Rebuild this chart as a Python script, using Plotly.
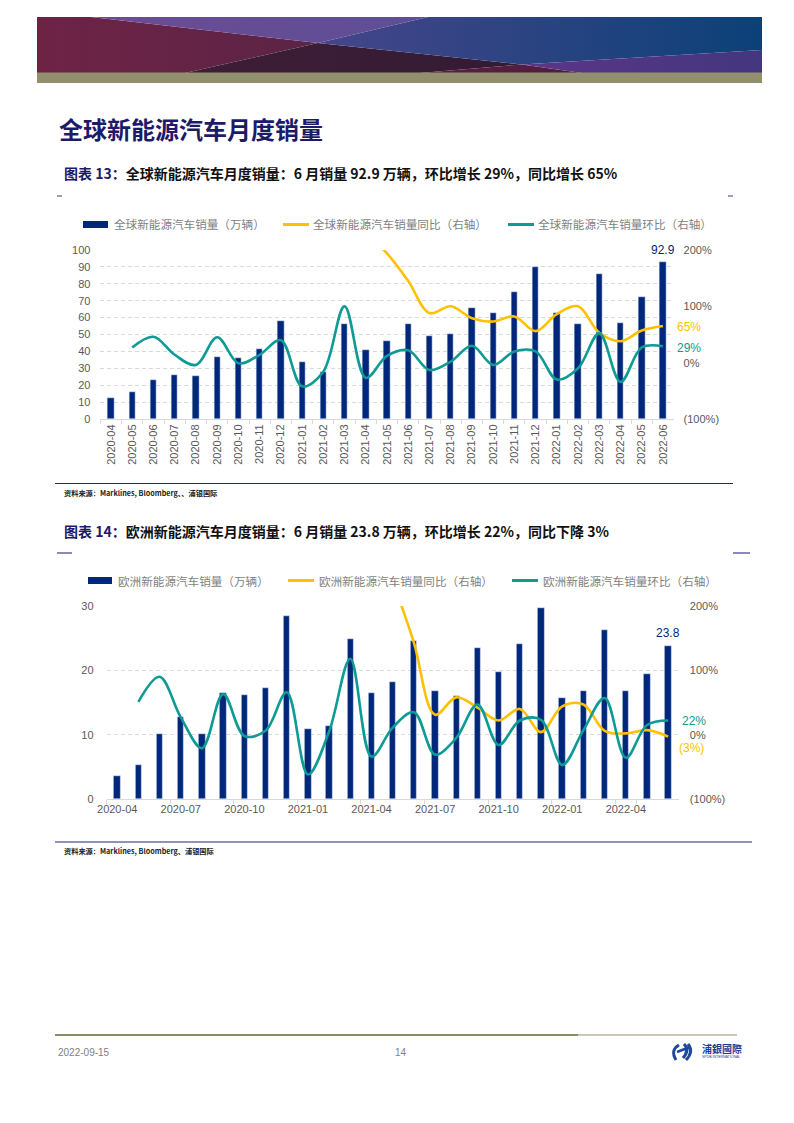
import plotly.graph_objects as go

# ---------------- data ----------------
months = ["2020-04", "2020-05", "2020-06", "2020-07", "2020-08", "2020-09", "2020-10",
          "2020-11", "2020-12", "2021-01", "2021-02", "2021-03", "2021-04", "2021-05",
          "2021-06", "2021-07", "2021-08", "2021-09", "2021-10", "2021-11", "2021-12",
          "2022-01", "2022-02", "2022-03", "2022-04", "2022-05", "2022-06"]
mom_months = months[1:]          # MoM series start 2020-05
yoy_months = months[12:]         # YoY series start 2021-04

global_sales = [12.4, 15.7, 23.0, 26.2, 25.2, 36.6, 36.2, 41.3, 57.9, 33.7, 28.1, 56.1, 41.1, 46.1,
                56.3, 49.2, 50.4, 65.7, 62.8, 75.2, 90.2, 62.8, 56.3, 85.6, 56.7, 72.2, 92.9]
global_yoy = [231, 194, 145, 88, 100, 79, 73, 82, 56, 86, 100, 53, 38, 57, 65]
global_mom = [27, 46, 14, -4, 45, -1, 14, 40, -42, -16, 100, -27, 12, 22, -13, 2, 30, -4, 20, 20,
              -30, -10, 52, -34, 27, 29]

eu_sales = [3.5, 5.3, 10.1, 12.8, 10.1, 16.5, 16.2, 17.2, 28.5, 10.9, 11.4, 24.8, 16.4, 18.2,
            24.5, 16.8, 16.0, 23.5, 19.8, 24.1, 29.7, 15.7, 16.8, 26.3, 16.8, 19.4, 23.8]
eu_yoy = [369, 243, 143, 31, 58, 42, 22, 40, 4, 44, 47, 6, 2, 7, -3]
eu_mom = [51, 90, 27, -21, 63, -2, 6, 66, -62, 5, 118, -34, 11, 35, -31, -5, 47, -16, 22, 23,
          -47, 7, 57, -36, 15, 22]

eu_tick_months = ["2020-04", "2020-07", "2020-10", "2021-01", "2021-04", "2021-07", "2021-10",
                  "2022-01", "2022-04"]
right_tickvals = [-100, 0, 100, 200]
right_ticktext = ["(100%)", "0%", "100%", "200%"]

# ---------------- styles ----------------
W, H = 794, 1123
OFF = 8   # page body margin of the rendered html
NAVY = "#00287a"
YEL = "#ffc000"
TEAL = "#0e9a95"
GRAY = "#595959"
GRID = "#d9d9d9"
NUMFONT = "Liberation Sans, Arial, sans-serif"
CJK = "Noto Sans CJK SC, sans-serif"


def px(x):
    return (x - OFF) / W


def py(y):
    return 1 - (y - OFF) / H


fig = go.Figure()

# ---------------- chart 1 ----------------
fig.add_trace(go.Bar(x=months, y=global_sales, marker_color=NAVY, width=0.3,
                     xaxis="x", yaxis="y", showlegend=False))
fig.add_trace(go.Scatter(x=yoy_months, y=global_yoy, mode="lines",
                         line=dict(color=YEL, width=2.6, shape="spline", smoothing=1.0),
                         xaxis="x", yaxis="y2", showlegend=False))
fig.add_trace(go.Scatter(x=mom_months, y=global_mom, mode="lines",
                         line=dict(color=TEAL, width=2.6, shape="spline", smoothing=1.0),
                         xaxis="x", yaxis="y2", showlegend=False))

# ---------------- chart 2 ----------------
fig.add_trace(go.Bar(x=months, y=eu_sales, marker_color=NAVY, width=0.3,
                     xaxis="x2", yaxis="y3", showlegend=False))
fig.add_trace(go.Scatter(x=yoy_months, y=eu_yoy, mode="lines",
                         line=dict(color=YEL, width=2.6, shape="spline", smoothing=1.0),
                         xaxis="x2", yaxis="y4", showlegend=False))
fig.add_trace(go.Scatter(x=mom_months, y=eu_mom, mode="lines",
                         line=dict(color=TEAL, width=2.6, shape="spline", smoothing=1.0),
                         xaxis="x2", yaxis="y4", showlegend=False))

# ---------------- banner (page axis, gradients) ----------------
banner_regions = [
    # (xs, ys, left colour, right colour)
    ([37, 91, 318, 185, 37], [17, 17, 43, 73, 73], "#6e2345", "#5b2446"),
    ([91, 428, 318], [17, 17, 43], "#6c4b94", "#5d4f97"),
    ([185, 318, 522, 420], [73, 43, 64.4, 73], "#3f1d37", "#321b33"),
    ([420, 522, 582], [73, 64.4, 73], "#5a1f43", "#4e1d3f"),
    ([428, 762, 762, 522, 318], [17, 17, 50, 64.4, 43], "#46458a", "#0c4178"),
    ([522, 762, 762, 582], [64.4, 50, 73, 73], "#5b3686", "#43367f"),
]
for xs, ys, c1, c2 in banner_regions:
    fig.add_trace(go.Scatter(x=xs + [xs[0]], y=ys + [ys[0]], mode="lines", fill="toself",
                             fillgradient=dict(type="horizontal", colorscale=[[0, c1], [1, c2]]),
                             line=dict(width=0, color=c1), hoverinfo="skip",
                             xaxis="x3", yaxis="y5", showlegend=False))

shapes = []
annotations = []


def rect(x0, y0, x1, y1, color):
    shapes.append(dict(type="rect", xref="paper", yref="paper", x0=px(x0), x1=px(x1),
                       y0=py(y1), y1=py(y0), fillcolor=color, line=dict(width=0), layer="above"))


def hline(x0, x1, y, color, width):
    shapes.append(dict(type="line", xref="paper", yref="paper", x0=px(x0), x1=px(x1),
                       y0=py(y), y1=py(y), line=dict(color=color, width=width), layer="above"))


def text(x, y, s, size, color, family=CJK, xanchor="left", yanchor="middle"):
    annotations.append(dict(x=px(x), y=py(y), xref="paper", yref="paper", text=s,
                            showarrow=False, xanchor=xanchor, yanchor=yanchor,
                            font=dict(size=size, color=color, family=family)))


# olive strip under banner
rect(37, 72.5, 762, 83, "#928f6e")

# page title
text(57, 128, "<b>全球新能源汽车月度销量</b>", 24, "#1d1a68")

# captions
text(62, 173, "<b><span style='color:#1d1a68'>图表 13：</span>全球新能源汽车月度销量：6 月销量 92.9 万辆，环比增长 29%，同比增长 65%</b>",
     14, "#111111")
text(62, 531, "<b><span style='color:#1d1a68'>图表 14：</span>欧洲新能源汽车月度销量：6 月销量 23.8 万辆，环比增长 22%，同比下降 3%</b>",
     14, "#111111")

# small dashes
hline(57, 62, 196, "#3b3a8c", 1)
hline(728, 733, 196, "#3b3a8c", 1)
hline(57, 72, 553, "#3b3a8c", 1.2)
hline(733, 750, 553, "#3b3a8c", 1.2)

# legends
LEGC = "#7f7f7f"
LEGS = 11.6
rect(83, 221, 108, 228, NAVY)
text(112, 224.5, "全球新能源汽车销量（万辆）", LEGS, LEGC)
hline(283, 309, 224.5, YEL, 3)
text(311, 224.5, "全球新能源汽车销量同比（右轴）", LEGS, LEGC)
hline(508, 534, 224.5, TEAL, 3)
text(536, 224.5, "全球新能源汽车销量环比（右轴）", LEGS, LEGC)

rect(88, 577, 112, 584, NAVY)
text(116, 580.5, "欧洲新能源汽车销量（万辆）", LEGS, LEGC)
hline(288, 314, 580.5, YEL, 3)
text(317, 580.5, "欧洲新能源汽车销量同比（右轴）", LEGS, LEGC)
hline(512, 538, 580.5, TEAL, 3)
text(541, 580.5, "欧洲新能源汽车销量环比（右轴）", LEGS, LEGC)

# data labels
annotations.append(dict(x=months[-1], y=global_sales[-1], xref="x", yref="y", text="92.9",
                        showarrow=False, yanchor="bottom", yshift=3,
                        font=dict(size=12, color=NAVY, family=NUMFONT)))
annotations.append(dict(x=months[-1], y=eu_sales[-1], xref="x2", yref="y3", text="23.8",
                        showarrow=False, yanchor="bottom", yshift=4,
                        font=dict(size=12, color=NAVY, family=NUMFONT)))
text(675, 327, "65%", 12, YEL, NUMFONT)
text(675, 347.5, "29%", 12, TEAL, NUMFONT)
text(680, 720.5, "22%", 12, TEAL, NUMFONT)
text(677, 748, "(3%)", 12, YEL, NUMFONT)

# bottom rules and sources
hline(55, 733, 483.5, "#1d2a6e", 1.2)
text(62, 493, "<b>资料来源：Marklines, Bloomberg、、浦银国际</b>", 7.2, "#222222")
hline(55, 752, 842, "#1d2a6e", 1.2)
text(62, 851, "<b>资料来源：Marklines, Bloomberg、浦银国际</b>", 7.2, "#222222")

# footer
hline(55, 578, 1035, "#8e8c6c", 2)
hline(578, 737, 1035, "#c9c8b6", 2)
text(56, 1052, "2022-09-15", 10, "#808080", NUMFONT)
text(393, 1052, "14", 10, "#808080", NUMFONT)
text(700, 1048, "<b>浦銀國際</b>", 10, "#1f3f8f")
text(700, 1057, "SPDB INTERNATIONAL", 3.5, "#1f3f8f", NUMFONT)
# logo icon (page-axis paths)
for p in ["M 679 1045 Q 670 1050 676 1060", "M 684 1044 Q 690 1050 683 1058",
          "M 688 1044 Q 694 1052 686 1060"]:
    shapes.append(dict(type="path", xref="x3", yref="y5", path=p,
                       line=dict(color="#1f4a9c", width=3)))
shapes.append(dict(type="path", xref="x3", yref="y5", path="M 677 1052 L 690 1047",
                   line=dict(color="#1f4a9c", width=2.5)))

tickfont = dict(size=11, color=GRAY, family=NUMFONT)

fig.update_layout(
    width=W, height=H,
    margin=dict(l=0, r=0, t=0, b=0, pad=0, autoexpand=False),
    paper_bgcolor="white", plot_bgcolor="rgba(0,0,0,0)",
    showlegend=False,
    bargap=0,
    shapes=shapes, annotations=annotations,
    xaxis=dict(domain=[px(100.4), px(673.6)], anchor="y", type="category",
               categoryorder="array", categoryarray=months, range=[-0.5, 26.5],
               tickangle=-90, tickson="boundaries", ticks="outside", ticklen=4,
               tickcolor=GRID, showline=True, linecolor=GRID, linewidth=1,
               showgrid=False, tickfont=tickfont, fixedrange=True, automargin=False),
    yaxis=dict(domain=[py(419), py(250)], anchor="x", range=[0, 100], dtick=10,
               showgrid=True, gridcolor=GRID, griddash="4px,3px", gridwidth=1,
               zeroline=False, showline=False, ticks="", tickfont=tickfont,
               ticklabelstandoff=9, fixedrange=True, automargin=False),
    yaxis2=dict(overlaying="y", side="right", anchor="x", range=[-100, 200],
                tickvals=right_tickvals, ticktext=right_ticktext, showgrid=False,
                zeroline=False, showline=False, ticks="", tickfont=tickfont,
                ticklabelstandoff=9, fixedrange=True, automargin=False),
    xaxis2=dict(domain=[px(106.6), px(678.8)], anchor="y3", type="category",
                categoryorder="array", categoryarray=months, range=[-0.5, 26.5],
                tickangle=0, tickmode="array", tickvals=eu_tick_months,
                tickson="boundaries", ticks="outside", ticklen=4,
                tickcolor=GRID, showline=True, linecolor=GRID, linewidth=1,
                showgrid=False, tickfont=tickfont, fixedrange=True, automargin=False),
    yaxis3=dict(domain=[py(799), py(606)], anchor="x2", range=[0, 30], dtick=10,
                showgrid=True, gridcolor=GRID, griddash="4px,3px", gridwidth=1,
                zeroline=False, showline=False, ticks="", tickfont=tickfont,
                ticklabelstandoff=12, fixedrange=True, automargin=False),
    yaxis4=dict(overlaying="y3", side="right", anchor="x2", range=[-100, 200],
                tickvals=right_tickvals, ticktext=right_ticktext, showgrid=False,
                zeroline=False, showline=False, ticks="", tickfont=tickfont,
                ticklabelstandoff=10, fixedrange=True, automargin=False),
    xaxis3=dict(domain=[0, 1], range=[OFF, W + OFF], visible=False, anchor="y5", fixedrange=True),
    yaxis5=dict(domain=[0, 1], range=[H + OFF, OFF], visible=False, anchor="x3", fixedrange=True),
)

fig.write_html("out.html")
